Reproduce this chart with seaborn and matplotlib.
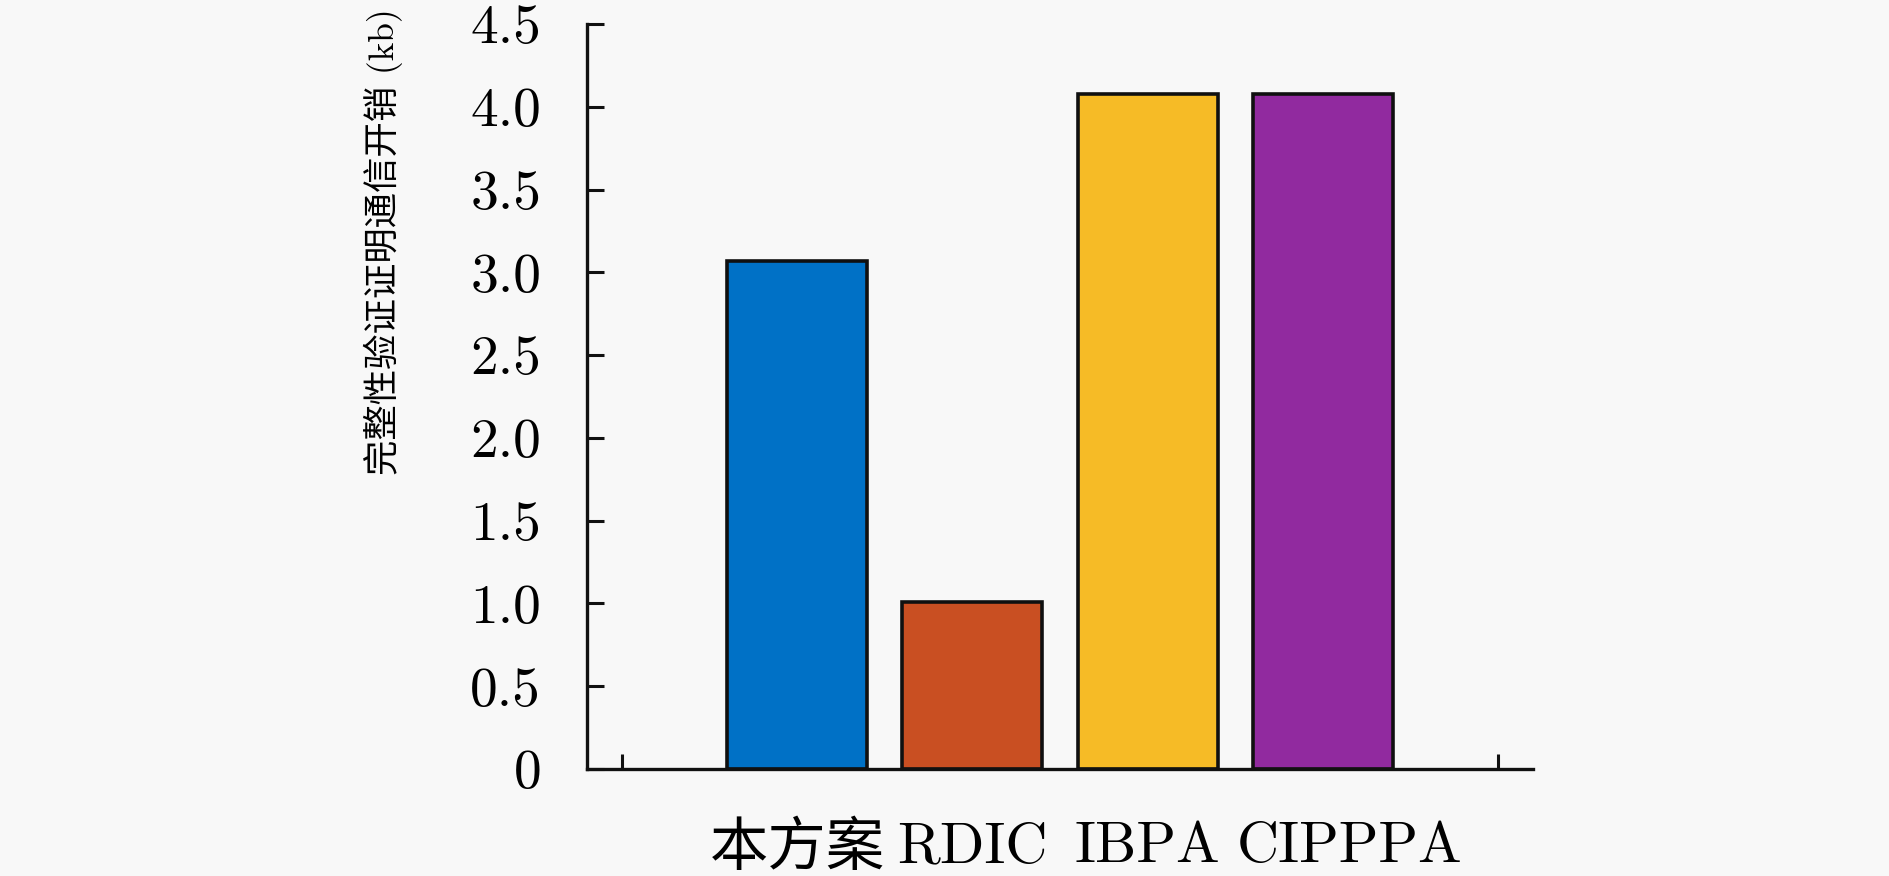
import matplotlib
matplotlib.use("Agg")
import matplotlib.pyplot as plt
import matplotlib.transforms as mtransforms
import seaborn as sns
import pandas as pd

# ---- data ----
categories = ["本方案", "RDIC", "IBPA", "CIPPPA"]
values = [3.07, 1.01, 4.08, 4.08]
bar_colors = ["#0071C6", "#C94F22", "#F6BB26", "#912A9F"]
ytick_values = [0, 0.5, 1.0, 1.5, 2.0, 2.5, 3.0, 3.5, 4.0, 4.5]
ytick_labels = ["0", "0.5", "1.0", "1.5", "2.0", "2.5", "3.0", "3.5", "4.0", "4.5"]
ylabel_text = "完整性验证证明通信开销 (kb)"

sns.set_theme(style="white")
plt.rcParams["font.family"] = ["cmr10", "Noto Sans CJK SC", "DejaVu Sans"]
plt.rcParams["axes.unicode_minus"] = False
plt.rcParams["axes.formatter.use_mathtext"] = True
plt.rcParams["text.color"] = "black"
plt.rcParams["xtick.color"] = "black"
plt.rcParams["ytick.color"] = "black"
plt.rcParams["axes.labelcolor"] = "black"

BG = "#F8F8F8"
fig = plt.figure(figsize=(18.9, 8.76), dpi=100, facecolor=BG)
ax = fig.add_axes([0.3106, 0.1221, 0.8111 - 0.3106, 0.9726 - 0.1221])
ax.set_facecolor(BG)

df = pd.DataFrame({"cat": categories, "val": values})
sns.barplot(data=df, x="cat", y="val", hue="cat", palette=bar_colors,
            order=categories, hue_order=categories, legend=False,
            width=0.8, edgecolor="#101010", linewidth=2.6, saturation=1,
            ax=ax, zorder=2)

ax.set_xlim(-1.2, 4.2)
ax.set_ylim(0, 4.5)

fam = ["cmr10", "Noto Sans CJK SC", "DejaVu Sans"]
ax.set_yticks(ytick_values, labels=ytick_labels)
ax.set_xticks(range(len(categories)), labels=categories)
ax.set_xticks([-1, 4], minor=True)

ax.tick_params(axis="y", which="major", direction="in", length=12, width=2.2,
               color="#111111", pad=33, left=True)
ax.tick_params(axis="x", which="major", length=0, pad=38, bottom=True)
ax.tick_params(axis="x", which="minor", direction="in", length=11, width=2.2,
               color="#111111", bottom=True)

for lab in ax.get_yticklabels():
    lab.set_fontfamily(fam)
    lab.set_fontsize(40)
    lab.set_color("black")
xlabs = ax.get_xticklabels()
for lab in xlabs:
    lab.set_fontfamily(fam)
    lab.set_fontsize(42)
    lab.set_color("black")

for side in ["top", "right"]:
    ax.spines[side].set_visible(False)
for side in ["left", "bottom"]:
    ax.spines[side].set_visible(True)
    ax.spines[side].set_linewidth(2.4)
    ax.spines[side].set_color("#111111")

ax.set_xlabel("")
ax.set_ylabel(ylabel_text, fontsize=25.5, family=fam, color="black")
ax.yaxis.label.set_verticalalignment("center")
ax.yaxis.label.set_horizontalalignment("center")
ax.yaxis.set_label_coords(-0.2156, 0.708)

# last category label sits slightly right of its bar in the reference
last_tick = ax.xaxis.get_major_ticks()[3]
last_tick.label1.set_transform(last_tick.label1.get_transform() +
                               mtransforms.ScaledTranslation(0.27, 0, fig.dpi_scale_trans))

fig.savefig("out.png", dpi=100, facecolor=BG)
